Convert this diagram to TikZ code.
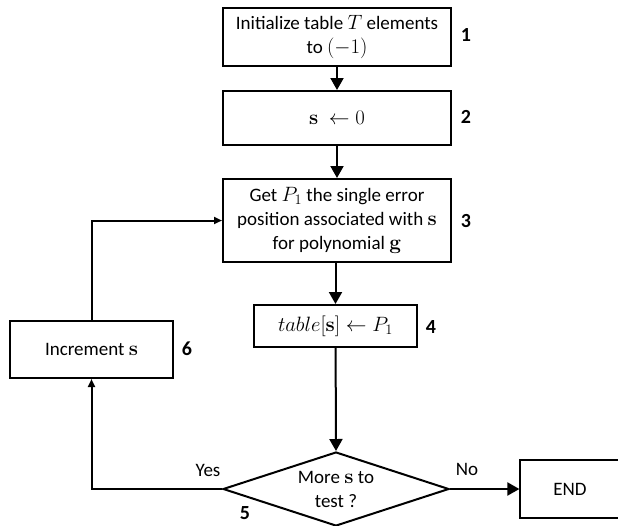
\documentclass[tikz,border=0pt]{standalone}
\usepackage[no-math]{fontspec}
\setmainfont{Carlito}
\usetikzlibrary{arrows.meta,shapes.geometric}
\newcommand\mymath[1]{{\fontsize{21}{24}\selectfont$#1$}}
\tikzset{
  boxnode/.style={draw, line width=2pt, rectangle, inner sep=0pt, align=center, font=\fontsize{19}{24}\selectfont},
  numlabel/.style={font=\fontsize{20}{22}\selectfont\bfseries},
  flowarrow/.style={line width=2pt, -{Triangle[width=13pt,length=12pt]}},
  smallarrow/.style={line width=2pt, -{Triangle[width=7pt,length=8pt]}},
  edgelabel/.style={font=\fontsize{19}{24}\selectfont},
}
\begin{document}
\begin{tikzpicture}[x=1pt,y=-1pt]
\useasboundingbox (0,0) rectangle (618,525);
\node[boxnode, minimum width=228, minimum height=58] (b1) at (337,37) {Initialize table \mymath{T} elements\\to \mymath{(-1)}};
\node[boxnode, minimum width=228, minimum height=54] (b2) at (337,118) {\mymath{\mathbf{s}\ \leftarrow 0}};
\node[boxnode, minimum width=228, minimum height=83] (b3) at (337,220.5) {Get \mymath{P_1} the single error\\position associated with \mymath{\mathbf{s}}\\for polynomial \mymath{\mathbf{g}}};
\node[boxnode, minimum width=163, minimum height=42] (b4) at (335.5,326) {\mymath{table[\mathbf{s}]\leftarrow P_1}};
\node[boxnode, minimum width=163, minimum height=57] (b6) at (91.5,349.5) {Increment \mymath{\mathbf{s}}};
\node[diamond, draw, line width=2pt, minimum width=226, minimum height=74, inner sep=0pt] (d) at (336,489) {};
\node[edgelabel, align=center] (dt) at (336,489) {More \mymath{\mathbf{s}} to\\test ?};
\node[boxnode, line width=1.2pt, minimum width=100, minimum height=58] (end) at (570,489) {END};

\node[numlabel] (n1) at (466,35) {1};
\node[numlabel] (n2) at (466,117) {2};
\node[numlabel] (n3) at (466,221) {3};
\node[numlabel] (n4) at (431,327) {4};
\node[numlabel] (n6) at (187,349) {6};
\node[numlabel] (n5) at (245,513) {5};
\node[edgelabel] (yes) at (208,470) {Yes};
\node[edgelabel] (no) at (467,469) {No};

\draw[flowarrow] (b1) -- (b2);
\draw[flowarrow] (b2) -- (b3);
\draw[flowarrow] (b3.south -| b4.north) -- (b4);
\draw[flowarrow] (b4) -- (d.north);
\draw[flowarrow] (d.east) -- (end.west);
\draw[smallarrow] (d.west) -| (b6.south);
\draw[smallarrow] (b6.north) |- (b3.west);
\end{tikzpicture}
\end{document}
